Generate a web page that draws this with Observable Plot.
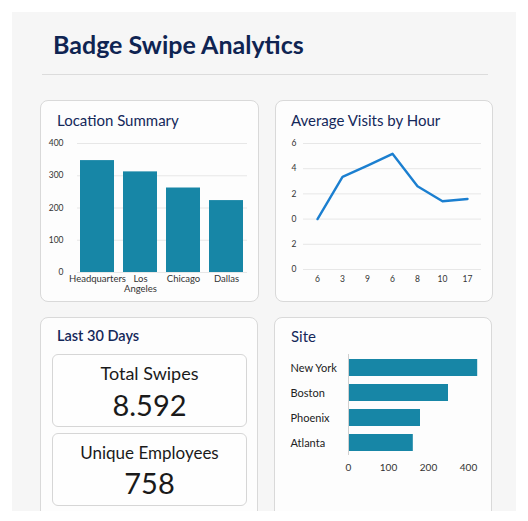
<!DOCTYPE html>
<html>
<head>
<meta charset="utf-8">
<script src="https://cdn.jsdelivr.net/npm/d3@7"></script>
<script src="https://cdn.jsdelivr.net/npm/@observablehq/plot@0.6"></script>
<style>
  html, body { margin: 0; padding: 0; background: #ffffff; }
  body { width: 528px; height: 521px; position: relative; overflow: hidden; font-family: Lato, "Noto Sans", sans-serif; }
  #panel { position: absolute; left: 12px; top: 12px; width: 504px; height: 499px; background: #f6f6f6; overflow: hidden; }
  .abs { position: absolute; white-space: nowrap; }
  .card { position: absolute; background: #fdfdfd; border: 1px solid #d9d9d9; border-radius: 8px; box-sizing: border-box; }
  .ctitle { position: absolute; white-space: nowrap; color: #14285a; font-size: 15px; line-height: 15px; }
  .box { position: absolute; background: #fefefe; border: 1px solid #d6d6d6; border-radius: 6px; box-sizing: border-box; }
  .lbl { position: absolute; width: 100%; text-align: center; color: #1a1a1a; white-space: nowrap; }
  .chart { position: absolute; }
</style>
</head>
<body>
<div id="panel"></div>
<div class="abs" id="title" style="left:53px; top:32px; font-size:25px; line-height:25px; font-weight:700; color:#0f2452;">Badge Swipe Analytics</div>
<div class="abs" style="left:42px; top:74px; width:446px; height:0; border-top:1.5px solid #dcdcdc;"></div>

<div class="card" style="left:40px; top:100px; width:219px; height:202px;"></div>
<div class="card" style="left:275px; top:100px; width:218px; height:202px;"></div>
<div class="card" style="left:40px; top:317px; width:218px; height:220px;"></div>
<div class="card" style="left:274px; top:317px; width:218px; height:220px;"></div>
<div id="panelBottomMask" class="abs" style="left:0; top:511px; width:528px; height:10px; background:#fff;"></div>

<div class="ctitle" style="left:57px; top:113px;">Location Summary</div>
<div class="ctitle" style="left:291px; top:113px;">Average Visits by Hour</div>
<div class="ctitle" style="left:57px; top:329px; font-size:14.5px; line-height:14.5px; font-weight:600;">Last 30 Days</div>
<div class="ctitle" style="left:291px; top:329px;">Site</div>

<div class="box" style="left:52px; top:354px; width:195px; height:73px;">
  <div class="lbl" id="k1label" style="top:9px; font-size:18px; line-height:18px;"></div>
  <div class="lbl" id="k1value" style="top:35px; font-size:29px; line-height:29px;"></div>
</div>
<div class="box" style="left:52px; top:433px; width:195px; height:73px;">
  <div class="lbl" id="k2label" style="top:10px; font-size:17px; line-height:17px;"></div>
  <div class="lbl" id="k2value" style="top:34px; font-size:29px; line-height:29px;"></div>
</div>

<div class="chart" id="c1" style="left:44px; top:132px;"></div>
<div class="chart" id="c2" style="left:278px; top:132px;"></div>
<div class="chart" id="c4" style="left:278px; top:345px;"></div>

<script>
// ---- Data ----
const locations = ["Headquarters", "Los Angeles", "Chicago", "Dallas"];
const locationSwipes = [347, 312, 262, 223];
const locationTicks = [0, 100, 200, 300, 400];

const hourLabels = ["6", "3", "9", "6", "8", "10", "17"];
const hourVisits = [0, 3.35, 4.25, 5.18, 2.6, 1.42, 1.6];
const visitTickValues = [-4, -2, 0, 2, 4, 6];
const visitTickLabels = ["0", "2", "0", "2", "4", "6"];

const kpiLabels = ["Total Swipes", "Unique Employees"];
const kpiValues = ["8.592", "758"];

const sites = ["New York", "Boston", "Phoenix", "Atlanta"];
const siteSwipes = [323, 250, 180, 162];
const siteTickValues = [0, 100, 200, 300];
const siteTickLabels = ["0", "100", "200", "400"];

// ---- Styles ----
const barColor = "#1786a6";
const lineColor = "#1b7fd0";
const gridColor = "#e7e7e7";
const baseStyle = (fs) => ({ background: "transparent", fontFamily: "Lato, 'Noto Sans', sans-serif", fontSize: fs, color: "#333", overflow: "visible" });

// KPI texts
document.getElementById("k1label").textContent = kpiLabels[0];
document.getElementById("k1value").textContent = kpiValues[0];
document.getElementById("k2label").textContent = kpiLabels[1];
document.getElementById("k2value").textContent = kpiValues[1];

// ---- Chart 1: Location Summary ----
const locData = locations.map((name, i) => ({ name, value: locationSwipes[i] }));
const c1 = Plot.plot({
  width: 210, height: 172,
  marginLeft: 33, marginRight: 7, marginTop: 11, marginBottom: 32,
  style: baseStyle("8px"),
  x: { domain: locations, paddingInner: 0.2, paddingOuter: 0.05, label: null },
  y: { domain: [0, 400], label: null },
  marks: [
    Plot.gridY(locationTicks, { stroke: gridColor, strokeOpacity: 1 }),
    Plot.barY(locData, { x: "name", y: "value", fill: barColor }),
    Plot.axisY(locationTicks, { tickSize: 0, tickPadding: 14, fontSize: 8.5, fill: "#333", label: null }),
    Plot.axisX({ tickSize: 0, tickPadding: 3, fontSize: 9.5, fill: "#333", label: null, tickFormat: d => d.replace(" ", "\n") })
  ]
});
document.getElementById("c1").appendChild(c1);

// ---- Chart 2: Average Visits by Hour ----
const hourData = hourVisits.map((v, i) => ({ i, v }));
const c2 = Plot.plot({
  width: 210, height: 165,
  marginLeft: 25, marginRight: 7, marginTop: 11, marginBottom: 28,
  style: baseStyle("8px"),
  x: { type: "point", domain: d3.range(hourLabels.length), padding: 0.5, label: null },
  y: { domain: [-4, 6], label: null },
  marks: [
    Plot.gridY(visitTickValues, { stroke: gridColor, strokeOpacity: 1 }),
    Plot.line(hourData, { x: "i", y: "v", stroke: lineColor, strokeWidth: 2.4 }),
    Plot.axisY(visitTickValues, { tickSize: 0, tickPadding: 7, fontSize: 8.5, fill: "#333", label: null, tickFormat: (d, k) => visitTickLabels[k] }),
    Plot.axisX({ tickSize: 0, tickPadding: 6, fontSize: 8.5, fill: "#333", label: null, tickFormat: i => hourLabels[i] })
  ]
});
document.getElementById("c2").appendChild(c2);

// ---- Chart 4: Site ----
const siteData = sites.map((name, i) => ({ name, value: siteSwipes[i] }));
const c4 = Plot.plot({
  width: 210, height: 140,
  marginLeft: 70, marginRight: 10, marginTop: 9, marginBottom: 30,
  style: baseStyle("10px"),
  x: { domain: [0, 325], label: null },
  y: { domain: sites, paddingInner: 0.32, paddingOuter: 0.16, label: null },
  marks: [
    Plot.barX(siteData, { y: "name", x: "value", fill: barColor }),
    Plot.ruleX([0], { stroke: "#cfcfcf" }),
    Plot.axisY({ tickSize: 0, tickPadding: 58, textAnchor: "start", fontSize: 11, fill: "#222", label: null }),
    Plot.axisX(siteTickValues, { tickSize: 0, tickPadding: 8, fontSize: 10, fill: "#333", label: null, tickFormat: (d, k) => siteTickLabels[k] })
  ]
});
document.getElementById("c4").appendChild(c4);
</script>
</body>
</html>
